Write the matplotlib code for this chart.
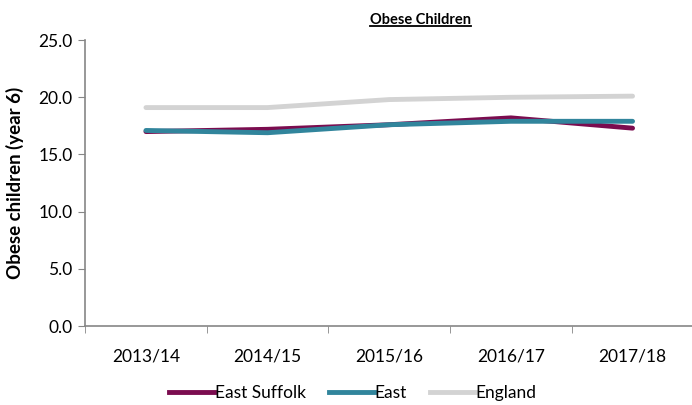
import matplotlib
matplotlib.use("Agg")
import matplotlib.pyplot as plt
from matplotlib.lines import Line2D

# obese year 6 children (%) by school year
years = ['2013/14', '2014/15', '2015/16', '2016/17', '2017/18']
east_suffolk = [17.0, 17.2, 17.6, 18.2, 17.3]
east = [17.1, 16.9, 17.6, 17.9, 17.9]
england = [19.1, 19.1, 19.8, 20.0, 20.1]

plt.rcParams['font.family'] = ['Lato', 'DejaVu Sans']
plt.rcParams['font.size'] = 12.5

fig = plt.figure(figsize=(6.92, 4.05), dpi=100)
ax = fig.add_axes([0.123, 0.195, 0.879, 0.706])

x = range(len(years))
ax.plot(x, england, color='#D3D3D3', lw=3.5, solid_capstyle='round', label='England')
ax.plot(x, east_suffolk, color='#7B0C4F', lw=3.5, solid_capstyle='round', label='East Suffolk')
ax.plot(x, east, color='#31859C', lw=3.5, solid_capstyle='round', label='East')

ax.set_xlim(-0.5, len(years) - 0.5)
ax.set_ylim(0, 25)
ax.set_yticks([0, 5, 10, 15, 20, 25])
ax.set_yticklabels(['%.1f' % v for v in [0, 5, 10, 15, 20, 25]])
ax.set_xticks(list(x))
ax.set_xticklabels(years)
# category boundary ticks on x axis
ax.set_xticks([i - 0.5 for i in range(len(years) + 1)], minor=True)
ax.tick_params(axis='x', which='major', length=0, pad=16)
ax.tick_params(axis='x', which='minor', length=5, color='#868686')
ax.tick_params(axis='y', length=5, color='#868686', pad=4)

for side in ['top', 'right']:
    ax.spines[side].set_visible(False)
for side in ['left', 'bottom']:
    ax.spines[side].set_color('#868686')
    ax.spines[side].set_linewidth(1.2)

ax.set_ylabel('Obese children (year 6)', fontweight='bold', fontsize=13.5, labelpad=10)

title = fig.text(0.607, 0.951, 'Obese Children', ha='center', va='center',
                 fontweight='bold', fontsize=10.5)

handles = [Line2D([], [], color='#7B0C4F', lw=3.5),
           Line2D([], [], color='#31859C', lw=3.5),
           Line2D([], [], color='#D3D3D3', lw=3.5)]
fig.legend(handles, ['East Suffolk', 'East', 'England'], loc='center',
           bbox_to_anchor=(0.51, 0.03), ncol=3, frameon=False,
           handlelength=2.6, handletextpad=0.05, columnspacing=1.3)

# underline the title
fig.canvas.draw()
bb = title.get_window_extent().transformed(fig.transFigure.inverted())
fig.add_artist(Line2D([bb.x0, bb.x1], [bb.y0 + 0.002, bb.y0 + 0.002],
                      color='black', lw=1.3, transform=fig.transFigure))

fig.savefig('out.png', dpi=100)
